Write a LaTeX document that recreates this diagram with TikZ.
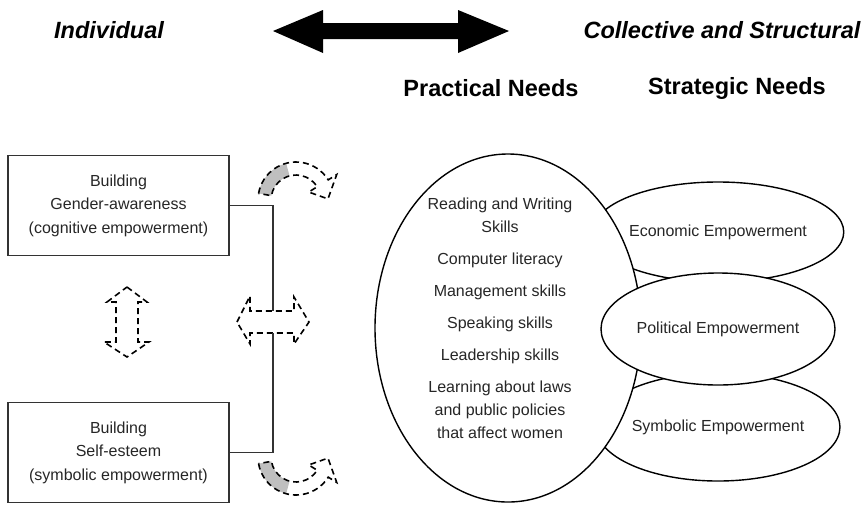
\documentclass[tikz,border=0pt]{standalone}
\usepackage{fontspec}
\setmainfont{Liberation Sans}
\usetikzlibrary{shapes.geometric}

\begin{document}
\begin{tikzpicture}[x=1pt, y=-1pt,
	kopf/.style={font=\fontsize{23.5}{28}\selectfont\bfseries},
	feld/.style={draw=black!80, line width=1.3pt, minimum width=221pt, minimum height=100pt, align=center, text=black!85, font=\fontsize{16}{23.5}\selectfont},
	blase/.style={draw, line width=1.4pt, fill=white, ellipse, inner sep=0pt, text=black!85, font=\fontsize{16}{23}\selectfont},
	strich/.style={line width=1.6pt, dash pattern=on 6pt off 4pt},
	]
\useasboundingbox (0,0) rectangle (866,504);

% Kopfzeile
\node[kopf] (indiv) at (109,30) {\itshape Individual};
\node[kopf] (collective) at (722,30) {\itshape Collective and Structural};
\node[kopf] (pneeds) at (491,88) {Practical Needs};
\node[kopf] (sneeds) at (737,88) {Strategic Needs};
\fill (273,31) -- (323,10) -- (323,23) -- (458,23) -- (458,10) -- (509,31) -- (458,53) -- (458,39) -- (323,39) -- (323,53) -- cycle;

% Individuell
\begin{scope}[local bounding box=Indiv]
	% Kaesten
	\node[feld] (gender) at (118.5,205.5) {Building\\Gender-awareness\\(cognitive empowerment)};
	\node[feld] (esteem) at (118.5,452.5) {Building\\Self-esteem\\(symbolic empowerment)};
	% Pfeile gestrichelt
	\draw[strich] (127,287) -- (147,302) -- (138,302) -- (138,342) -- (149,342) -- (127,357) -- (104,342) -- (116,342) -- (116,302) -- (107,302) -- cycle;
	\draw[strich] (237,322) -- (250,296) -- (250,311) -- (294,311) -- (294,297) -- (309,322) -- (294,344) -- (294,333) -- (250,333) -- (250,344) -- cycle;
	\coordinate (hubtop) at (273,311);
	\coordinate (hubbot) at (273,333);
	\draw[line width=1.3pt, black!80] (gender.east) -| (hubtop);
	\draw[line width=1.3pt, black!80] (esteem.east) -| (hubbot);
\end{scope}

% Bogenpfeile
\begin{scope}[shift={(296,200)}]
	\fill[black!25] (190:38) arc[start angle=190, end angle=255, radius=38] -- (255:25) arc[start angle=255, end angle=190, radius=25] -- cycle;
	\draw[strich] (190:38) arc[start angle=190, end angle=328, radius=38] -- (328:48) -- (358:32) -- (328:15) -- (328:25) arc[start angle=328, end angle=190, radius=25] -- cycle;
\end{scope}
\begin{scope}[shift={(296,457)}]
	\fill[black!25] (170:38) arc[start angle=170, end angle=105, radius=38] -- (105:25) arc[start angle=105, end angle=170, radius=25] -- cycle;
	\draw[strich] (170:38) arc[start angle=170, end angle=32, radius=38] -- (32:48) -- (2:32) -- (32:15) -- (32:25) arc[start angle=32, end angle=170, radius=25] -- cycle;
\end{scope}

% Kollektiv
\begin{scope}[local bounding box=Koll]
	\node[blase, minimum width=230pt, minimum height=100pt] (economic) at (718,232) {Economic Empowerment};
	\node[blase, minimum width=230pt, minimum height=108pt] (symbolic) at (718,427) {Symbolic Empowerment};
	\node[blase, minimum width=266pt, minimum height=348pt] (practical) at (508,328) {};
	\node[align=center, text=black!85, font=\fontsize{16}{23}\selectfont] (skills) at (500,318) {Reading and Writing\\Skills\\[9pt]Computer literacy\\[9pt]Management skills\\[9pt]Speaking skills\\[9pt]Leadership skills\\[9pt]Learning about laws\\and public policies\\that affect women};
	\node[blase, minimum width=234pt, minimum height=112pt] (political) at (718,329) {Political Empowerment};
\end{scope}
\end{tikzpicture}
\end{document}
